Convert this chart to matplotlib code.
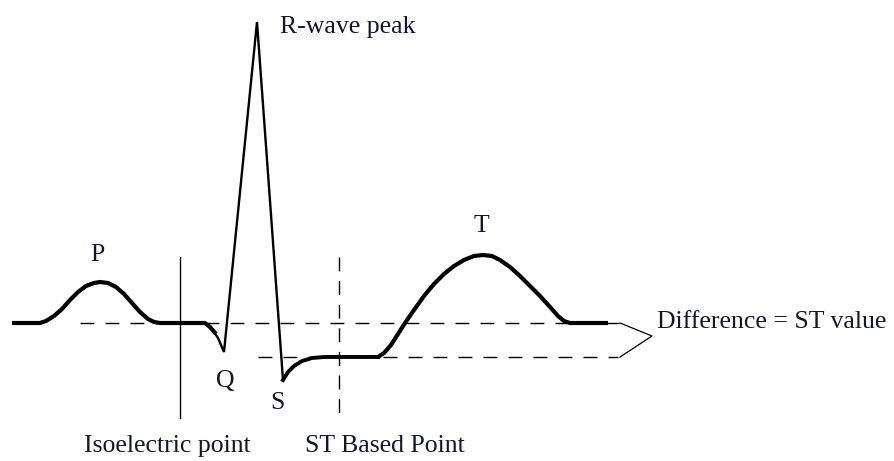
import matplotlib
matplotlib.use("Agg")
import matplotlib.pyplot as plt

# ECG trace (image pixel coordinates, y grows downward)
# slow parts (baseline, P wave, ST segment, T wave) are drawn thick
p_x = [12, 40, 46, 54, 62, 70, 78, 86, 94, 100, 108, 116, 124, 132, 140, 148, 154, 160, 205, 210, 216]
p_y = [323, 323, 321, 316, 309, 300, 292, 286, 283, 282, 283, 287, 294, 303, 312, 319, 322, 323, 323, 327, 334]

qrs_x = [212, 218, 224, 257, 283]
qrs_y = [329, 338, 352, 22, 380]

st_x = [283, 288, 294, 302, 312, 324, 340, 378]
st_y = [380, 372, 366, 361, 358, 357, 357, 357]

t_x = [378, 384, 391, 398, 405, 414, 424, 434, 444, 454, 464, 474, 483, 492, 500, 510, 520, 530, 540, 550, 558, 564, 570, 608]
t_y = [357, 353, 345, 334, 323, 310, 296, 284, 274, 266, 260, 256, 255, 256, 260, 267, 276, 286, 296, 307, 316, 321, 323, 323]

iso_level = 323
st_level = 357
iso_x = 180
st_point_x = 339

labels = ["P", "R-wave peak", "Q", "S", "T", "Isoelectric point", "ST Based Point", "Difference = ST value"]
label_x = [97, 280, 225, 277, 481, 84, 305, 657]
label_y = [255, 27, 381, 403, 226, 446, 446, 322]
label_ha = ["center", "left", "center", "center", "center", "left", "left", "left"]

fig = plt.figure(figsize=(8.95, 4.61), dpi=100)
ax = fig.add_axes([0, 0, 1, 1])
ax.set_xlim(0, 895)
ax.set_ylim(461, 0)
ax.axis("off")

ink = "black"
# reference lines
ax.plot([80, 620], [iso_level, iso_level], color=ink, lw=1.0, dashes=(10, 8))
ax.plot([258, 618], [st_level, st_level], color=ink, lw=1.0, dashes=(10, 8))
ax.plot([iso_x, iso_x], [257, 418], color=ink, lw=1.0)
ax.plot([st_point_x, st_point_x], [257, 415], color=ink, lw=1.0, dashes=(10, 7))
# bracket for the ST difference
ax.plot([620, 652, 620], [iso_level, 336, st_level], color=ink, lw=0.9)

# the ECG trace
ax.plot(p_x, p_y, color=ink, lw=3.0, solid_capstyle="butt", solid_joinstyle="round")
ax.plot(qrs_x, qrs_y, color=ink, lw=1.7, solid_joinstyle="miter")
ax.plot(st_x, st_y, color=ink, lw=2.8, solid_joinstyle="round")
ax.plot(t_x, t_y, color=ink, lw=3.0, solid_capstyle="butt", solid_joinstyle="round")

for txt, x, y, ha in zip(labels, label_x, label_y, label_ha):
    ax.text(x, y, txt, ha=ha, va="center", fontsize=18.5,
            family=["Liberation Serif", "DejaVu Serif"], color="#14142a")

fig.savefig("out.png", dpi=100)
